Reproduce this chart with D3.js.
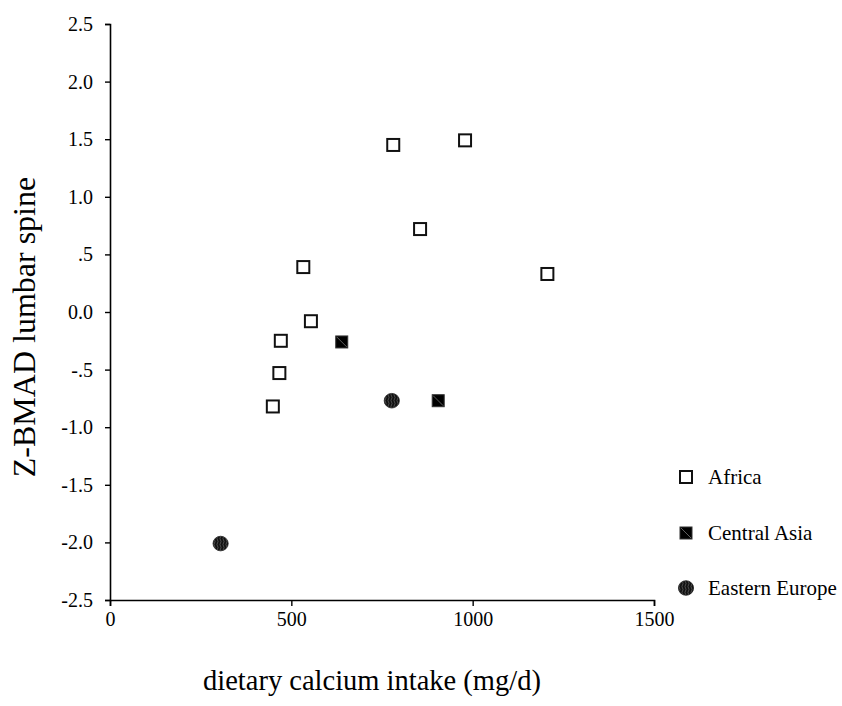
<!DOCTYPE html>
<html>
<head>
<meta charset="utf-8">
<script src="https://cdn.jsdelivr.net/npm/d3@7"></script>
<style>
html,body{margin:0;padding:0;background:#fff;}
svg{display:block;}
svg text{font-family:"Liberation Serif","Times New Roman",serif !important;fill:#000;}
</style>
</head>
<body>
<svg id="chart" width="842" height="706"></svg>
<script>
// ---- data ----
const seriesNames = ["Africa", "Central Asia", "Eastern Europe"];
const africaX = [781, 979, 855, 533, 1206, 554, 471, 467, 449];
const africaY = [1.45, 1.49, 0.72, 0.39, 0.33, -0.08, -0.25, -0.53, -0.82];
const centralAsiaX = [639, 905];
const centralAsiaY = [-0.26, -0.77];
const easternEuropeX = [305, 777];
const easternEuropeY = [-2.01, -0.77];
const xTickValues = [0, 500, 1000, 1500];
const xTickLabels = ["0", "500", "1000", "1500"];
const yTickValues = [2.5, 2.0, 1.5, 1.0, 0.5, 0.0, -0.5, -1.0, -1.5, -2.0, -2.5];
const yTickLabels = ["2.5", "2.0", "1.5", "1.0", ".5", "0.0", "-.5", "-1.0", "-1.5", "-2.0", "-2.5"];
const xTitle = "dietary calcium intake (mg/d)";
const yTitle = "Z-BMAD lumbar spine";

// ---- layout ----
const svg = d3.select("#chart");
const x = d3.scaleLinear().domain([0, 1500]).range([110, 654]);
const y = d3.scaleLinear().domain([-2.5, 2.5]).range([600, 24]);

// pattern for Eastern Europe marker
const defs = svg.append("defs");
const pat = defs.append("pattern").attr("id", "wavy").attr("patternUnits", "userSpaceOnUse")
  .attr("width", 3).attr("height", 6);
pat.append("rect").attr("width", 3).attr("height", 6).attr("fill", "#111");
pat.append("path").attr("d", "M1.5,0 Q2.6,1.5 1.5,3 Q0.4,4.5 1.5,6").attr("stroke", "#666")
  .attr("stroke-width", 0.7).attr("fill", "none");

// axes
const xAxis = d3.axisBottom(x).tickValues(xTickValues)
  .tickFormat((d, i) => xTickLabels[i]).tickSizeOuter(0).tickSize(6).tickPadding(6);
const yAxis = d3.axisLeft(y).tickValues(yTickValues)
  .tickFormat((d, i) => yTickLabels[i]).tickSizeOuter(0).tickSize(5).tickPadding(12);

const gx = svg.append("g").attr("transform", `translate(0,${y(-2.5)})`).call(xAxis);
const gy = svg.append("g").attr("transform", `translate(${x(0)},0)`).call(yAxis);
[gx, gy].forEach(g => {
  g.attr("font-family", null).attr("font-size", 20);
  g.select(".domain").attr("stroke", "#000").attr("stroke-width", 1.6);
  g.selectAll(".tick line").attr("stroke", "#000").attr("stroke-width", 1.4);
  g.selectAll(".tick text").style("font-size", "20px");
});

// titles
svg.append("text").attr("x", 372).attr("y", 690).attr("text-anchor", "middle")
  .style("font-size", "28.5px").text(xTitle);
svg.append("text").attr("transform", "translate(35,327) rotate(-90)")
  .attr("text-anchor", "middle").style("font-size", "32px").text(yTitle);

// marker drawers
const sq = 12;
function drawAfrica(g, cx, cy) {
  g.append("rect").attr("x", cx - sq / 2).attr("y", cy - sq / 2).attr("width", sq).attr("height", sq)
    .attr("fill", "#fff").attr("stroke", "#111").attr("stroke-width", 2);
}
function drawCentralAsia(g, cx, cy) {
  g.append("rect").attr("x", cx - sq / 2).attr("y", cy - sq / 2).attr("width", sq).attr("height", sq)
    .attr("fill", "#000").attr("stroke", "#333").attr("stroke-width", 1);
  g.append("line").attr("x1", cx - sq / 2 + 1).attr("y1", cy - sq / 2 + 1)
    .attr("x2", cx + sq / 2 - 1).attr("y2", cy + sq / 2 - 1)
    .attr("stroke", "#777").attr("stroke-width", 0.8);
}
function drawEasternEurope(g, cx, cy) {
  g.append("ellipse").attr("cx", cx).attr("cy", cy).attr("rx", 7.6).attr("ry", 7.3)
    .attr("fill", "url(#wavy)").attr("stroke", "#222").attr("stroke-width", 0.8);
}

const pts = svg.append("g");
africaX.forEach((v, i) => drawAfrica(pts, x(v), y(africaY[i])));
centralAsiaX.forEach((v, i) => drawCentralAsia(pts, x(v), y(centralAsiaY[i])));
easternEuropeX.forEach((v, i) => drawEasternEurope(pts, x(v), y(easternEuropeY[i])));

// legend
const drawers = [drawAfrica, drawCentralAsia, drawEasternEurope];
const legendY = [477, 533, 588];
const lg = svg.append("g");
seriesNames.forEach((name, i) => {
  drawers[i](lg, 686, legendY[i]);
  lg.append("text").attr("x", 708).attr("y", legendY[i] + 7).style("font-size", "21px").text(name);
});
</script>
</body>
</html>
